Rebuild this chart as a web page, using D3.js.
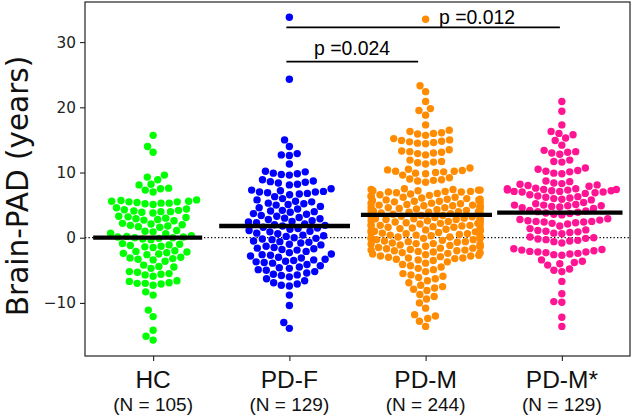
<!DOCTYPE html>
<html><head><meta charset="utf-8">
<script src="https://cdn.jsdelivr.net/npm/d3@7"></script>
<style>body{margin:0;background:#fff} svg{display:block}</style>
</head><body>
<svg id="c" width="633" height="416"></svg>
<script>
const categories = ["HC", "PD-F", "PD-M", "PD-M*"];
const groupSizes = ["(N = 105)", "(N = 129)", "(N = 244)", "(N = 129)"];
const colors = ["#00ff00", "#0000ff", "#ff8c00", "#ff1493"];
const yTicks = [-10, 0, 10, 20, 30];
const groupMeans = [0, 1.8, 3.5, 3.85];
const comparisons = [
  {from: 1, to: 3, label: "p =0.012"},
  {from: 1, to: 2, label: "p =0.024"}
];

const hcValues = [15.7, 14.0, 13.1, 9.6, 9.3, 8.9, 8.2, 8.1, 7.6, 7.5, 7.3, 7.0,
  5.8, 5.7, 5.6, 5.6, 5.5, 5.5, 5.4, 5.3, 5.3, 5.2, 5.1,
  4.6, 4.4, 4.3, 4.2, 4.1, 4.0, 4.0, 3.9, 3.8,
  3.3, 3.2, 3.1, 3.0, 2.9, 2.8, 2.7, 2.6,
  2.2, 2.1, 2.0, 1.9, 1.8, 1.7, 1.6,
  1.1, 1.0, 0.9, 0.7, 0.6,
  0.3, 0.2, 0.1, 0.1, 0.0, 0.0, -0.1, -0.2, -0.3,
  -0.9, -1.0, -1.1, -1.2, -1.3, -1.4, -1.5,
  -2.0, -2.1, -2.2, -2.3, -2.4, -2.5, -2.6,
  -3.0, -3.1, -3.2, -3.3, -3.4, -3.6,
  -4.2, -4.4, -4.5, -4.7,
  -5.2, -5.3, -5.5, -5.6, -5.7, -5.9,
  -6.6, -6.7, -6.9, -7.0, -7.0, -7.1, -7.3,
  -8.3, -8.8,
  -11.1, -12.1, -14.2, -15.1, -15.7];

const pdfValues = [33.8, 24.3, 15.0, 14.0, 12.9, 12.7, 12.6, 11.3,
  10.2, 10.1, 9.9, 9.8, 9.7, 9.6,
  8.9, 8.7, 8.6, 8.5, 8.4, 8.2, 8.1,
  7.5, 7.3, 7.2, 7.1, 7.0, 7.0, 6.9, 6.8, 6.7, 6.6,
  6.3, 6.0, 5.8, 5.6, 5.5, 5.3, 5.2, 5.1, 5.0,
  4.8, 4.6, 4.4, 4.2, 4.1, 4.0,
  3.9, 3.7, 3.6, 3.4, 3.3, 3.1, 3.0,
  2.9, 2.8, 2.6, 2.5, 2.4, 2.3, 2.1, 2.0,
  1.9, 1.8, 1.6, 1.5, 1.4, 1.3, 1.1, 1.0,
  0.9, 0.7, 0.6, 0.4, 0.3, 0.2, 0.0,
  -0.1, -0.2, -0.3, -0.5, -0.6, -0.7, -0.8, -1.0,
  -1.1, -1.3, -1.5, -1.6, -1.7, -1.8, -1.9,
  -2.1, -2.3, -2.5, -2.6, -2.7, -2.8, -3.0,
  -3.1, -3.3, -3.4, -3.5, -3.6, -3.7, -3.8, -3.9,
  -4.1, -4.3, -4.5, -4.6, -4.7, -4.9, -5.0,
  -5.2, -5.4, -5.6, -5.7, -5.8, -6.0,
  -6.3, -6.6, -6.9, -7.1, -7.3, -7.4,
  -8.8, -10.4, -13.0, -13.9];

const pdmValues = [33.5, 23.3, 22.4, 20.9, 19.8, 19.5, 18.8, 17.3,
  16.5, 16.3, 16.1, 16.0, 15.9, 15.7,
  15.2, 15.0, 14.9, 14.8, 14.7, 14.6, 14.5, 14.4,
  13.5, 13.3, 13.2, 13.1, 13.0, 12.9, 12.7,
  11.9, 11.7, 11.6, 11.5, 11.3,
  10.7, 10.5, 10.4, 10.3, 10.2, 10.2, 10.1, 10.0, 9.9, 9.8, 9.6,
  9.2, 9.0, 8.9, 8.8, 8.7, 8.5,
  7.5, 7.4, 7.4, 7.3, 7.3, 7.2, 7.2, 7.1, 7.1, 7.0, 7.0, 6.9, 6.8, 6.7, 6.6, 6.5,
  6.4, 6.3, 6.2, 6.2, 6.1, 6.0, 5.9, 5.9, 5.8, 5.8, 5.7, 5.6, 5.6, 5.5,
  5.4, 5.3, 5.3, 5.2, 5.1, 5.0, 5.0, 4.9, 4.9, 4.8, 4.8, 4.7, 4.6, 4.6, 4.5,
  4.4, 4.4, 4.3, 4.2, 4.2, 4.1, 4.0, 4.0, 3.9, 3.9, 3.8, 3.8, 3.7, 3.6, 3.6, 3.5,
  3.4, 3.4, 3.3, 3.2, 3.2, 3.1, 3.0, 3.0, 2.9, 2.9, 2.8, 2.8, 2.7, 2.6, 2.6, 2.5,
  2.4, 2.4, 2.3, 2.2, 2.2, 2.1, 2.0, 2.0, 1.9, 1.9, 1.8, 1.8, 1.7, 1.6, 1.6, 1.5,
  1.4, 1.4, 1.3, 1.2, 1.1, 1.1, 1.0, 1.0, 0.9, 0.8, 0.8, 0.7, 0.6, 0.6, 0.5,
  0.4, 0.4, 0.3, 0.2, 0.1, 0.1, 0.0, 0.0, -0.1, -0.1, -0.2, -0.3, -0.3, -0.4, -0.5,
  -0.6, -0.6, -0.7, -0.8, -0.9, -0.9, -1.0, -1.0, -1.1, -1.2, -1.3, -1.3, -1.4, -1.5,
  -1.6, -1.6, -1.7, -1.8, -1.9, -1.9, -2.0, -2.0, -2.1, -2.2, -2.3, -2.3, -2.4, -2.5,
  -2.6, -2.7, -2.8, -2.8, -2.9, -3.0, -3.1, -3.1, -3.2, -3.3, -3.4, -3.5,
  -3.7, -3.9, -4.1, -4.3, -4.5, -4.7, -4.9, -5.2,
  -5.5, -5.7, -5.9, -6.1, -6.3, -6.6, -6.9,
  -7.3, -7.5, -7.7, -7.9, -8.1,
  -8.7, -9.0, -9.4, -10.0,
  -10.8,
  -11.8, -12.0, -12.4, -12.8,
  -13.6];

const pdmStarValues = [20.9, 19.4, 17.3, 16.3, 16.0, 15.8, 15.3, 14.9, 14.2,
  13.4, 13.2, 13.1, 13.0, 12.8,
  11.9, 11.7, 11.6,
  10.7, 10.5, 10.3, 10.2, 10.1, 9.9, 9.8,
  8.7, 8.6, 8.4, 8.3, 8.2, 8.1, 8.0, 7.9,
  7.6, 7.5, 7.5, 7.4, 7.4, 7.3, 7.3, 7.2, 7.2, 7.1, 7.1, 7.0, 7.0, 6.9, 6.8,
  6.6, 6.4, 6.3, 6.2, 6.1, 6.0, 5.9, 5.8,
  5.4, 5.2, 5.1, 5.0, 5.0, 4.9, 4.9, 4.8, 4.7, 4.6, 4.5,
  4.2, 4.1, 4.0, 3.9, 3.8, 3.7, 3.6, 3.5,
  2.9, 2.8, 2.7, 2.6, 2.5, 2.5, 2.4, 2.4, 2.3, 2.2, 2.1, 1.8,
  1.4, 1.2, 1.1, 1.0, 0.9, 0.8, 0.7, 0.6,
  0.1, 0.0, -0.1, -0.2, -0.3, -0.4, -0.5, -0.6, -0.8,
  -1.7, -1.8, -1.9, -2.0, -2.1, -2.2, -2.2, -2.3, -2.4, -2.5, -2.6, -2.7,
  -3.4, -3.6, -3.8, -4.0, -4.2,
  -4.8, -5.0, -5.2,
  -6.7, -8.6, -9.8, -9.9, -12.2, -13.6];

const groups = [hcValues, pdfValues, pdmValues, pdmStarValues];

// ---- layout ----
const W = 633, H = 416;
const plot = {left: 85, right: 630, top: 2, bottom: 356};
const svg = d3.select("#c");
svg.append("rect").attr("width", W).attr("height", H).attr("fill", "#fff");

const x = d3.scaleLinear().domain([-0.5, 3.5]).range([plot.left, plot.right]);
const y = d3.scaleLinear().domain([-18.14, 36.15]).range([plot.bottom, plot.top]);

// zero reference line
svg.append("line")
  .attr("x1", plot.left).attr("x2", plot.right)
  .attr("y1", y(0)).attr("y2", y(0))
  .attr("stroke", "#000").attr("stroke-width", 1.2)
  .attr("stroke-dasharray", "1.3,2.2");

// beeswarm (seaborn-like)
const R = 3.7, DIST = 8.1;
const gutter = 0.4 * (x(1) - x(0));
function swarm(vals, cx) {
  const pts = vals.map(v => ({v: v, y: y(v)}));
  pts.sort((a, b) => b.y - a.y);
  const placed = [];
  for (const p of pts) {
    const nb = placed.filter(q => Math.abs(q.y - p.y) < DIST);
    const lefts = [], rights = [];
    for (const q of nb) {
      const dx = Math.sqrt(DIST * DIST - (q.y - p.y) * (q.y - p.y));
      lefts.push(q.x - dx); rights.push(q.x + dx);
    }
    const all = [cx].concat(lefts, rights);
    all.sort((a, b) => Math.abs(a - cx) - Math.abs(b - cx));
    let chosen = cx;
    for (const c of all) {
      let ok = true;
      for (const q of nb) {
        const dd = (q.x - c) * (q.x - c) + (q.y - p.y) * (q.y - p.y);
        if (dd < DIST * DIST - 1e-6) { ok = false; break; }
      }
      if (ok) { chosen = c; break; }
    }
    p.x = chosen;
    placed.push(p);
  }
  pts.forEach(p => { p.px = Math.max(cx - gutter, Math.min(cx + gutter, p.x)); });
  return pts;
}

groups.forEach((vals, i) => {
  const pts = swarm(vals, x(i));
  svg.append("g").selectAll("circle").data(pts).join("circle")
    .attr("cx", d => d.px).attr("cy", d => d.y).attr("r", R)
    .attr("fill", colors[i]);
});

// mean bars
const barSpan = [[-0.44, 0.36], [-0.515, 0.445], [-0.475, 0.487], [-0.475, 0.445]];
svg.append("g").selectAll("line").data(groupMeans).join("line")
  .attr("x1", (d, i) => x(i + barSpan[i][0]))
  .attr("x2", (d, i) => x(i + barSpan[i][1]))
  .attr("y1", d => y(d)).attr("y2", d => y(d))
  .attr("stroke", "#000").attr("stroke-width", 4.3);

// significance brackets
const sigLayout = [
  {y: 27.3, x1: -3, x2: -2, tx: 439, ty: 24, anchor: "start"},
  {y: 61.7, x1: -3, x2: -7.5, tx: 352, ty: 55, anchor: "middle"}
];
comparisons.forEach((c, k) => {
  const L = sigLayout[k];
  svg.append("line")
    .attr("x1", x(c.from) + L.x1).attr("x2", x(c.to) + L.x2)
    .attr("y1", L.y).attr("y2", L.y)
    .attr("stroke", "#000").attr("stroke-width", 1.7);
  svg.append("text").attr("x", L.tx).attr("y", L.ty)
    .attr("text-anchor", L.anchor)
    .attr("font-family", "'Liberation Sans', Arial, sans-serif")
    .attr("font-size", 19.4).attr("fill", "#000").text(c.label);
});

// frame
svg.append("rect")
  .attr("x", plot.left).attr("y", plot.top)
  .attr("width", plot.right - plot.left).attr("height", plot.bottom - plot.top)
  .attr("fill", "none").attr("stroke", "#222").attr("stroke-width", 1.2);

// y axis
const yAxis = d3.axisLeft(y).tickValues(yTicks).tickSize(5).tickPadding(4)
  .tickFormat(d => d < 0 ? "\u2212" + Math.abs(d) : String(d));
const gy = svg.append("g").attr("transform", `translate(${plot.left},0)`).call(yAxis);
gy.select(".domain").remove();
gy.selectAll("line").attr("stroke", "#222").attr("stroke-width", 1.1);
gy.selectAll("text").attr("font-family", "'DejaVu Sans', sans-serif")
  .attr("font-size", 15.3).attr("fill", "#222");

// x axis
const xAxis = d3.axisBottom(x).tickValues([0, 1, 2, 3]).tickSize(5).tickFormat("");
const gx = svg.append("g").attr("transform", `translate(0,${plot.bottom})`).call(xAxis);
gx.select(".domain").remove();
gx.selectAll("line").attr("stroke", "#222").attr("stroke-width", 1.1);

const xl = svg.append("g");
categories.forEach((c, i) => {
  xl.append("text").attr("x", x(i)).attr("y", 388).attr("text-anchor", "middle")
    .attr("font-family", "'Liberation Sans', Arial, sans-serif")
    .attr("font-size", 24.5).attr("fill", "#111").text(c);
  xl.append("text").attr("x", x(i)).attr("y", 410.5).attr("text-anchor", "middle")
    .attr("font-family", "'Liberation Sans', Arial, sans-serif")
    .attr("font-size", 19).attr("fill", "#111").text(groupSizes[i]);
});

// y label
svg.append("text")
  .attr("transform", "translate(28,186) rotate(-90)")
  .attr("text-anchor", "middle")
  .attr("font-family", "'DejaVu Sans', sans-serif")
  .attr("font-size", 29.5).attr("fill", "#111")
  .text("Brain-PAD (years)");
</script>
</body></html>
